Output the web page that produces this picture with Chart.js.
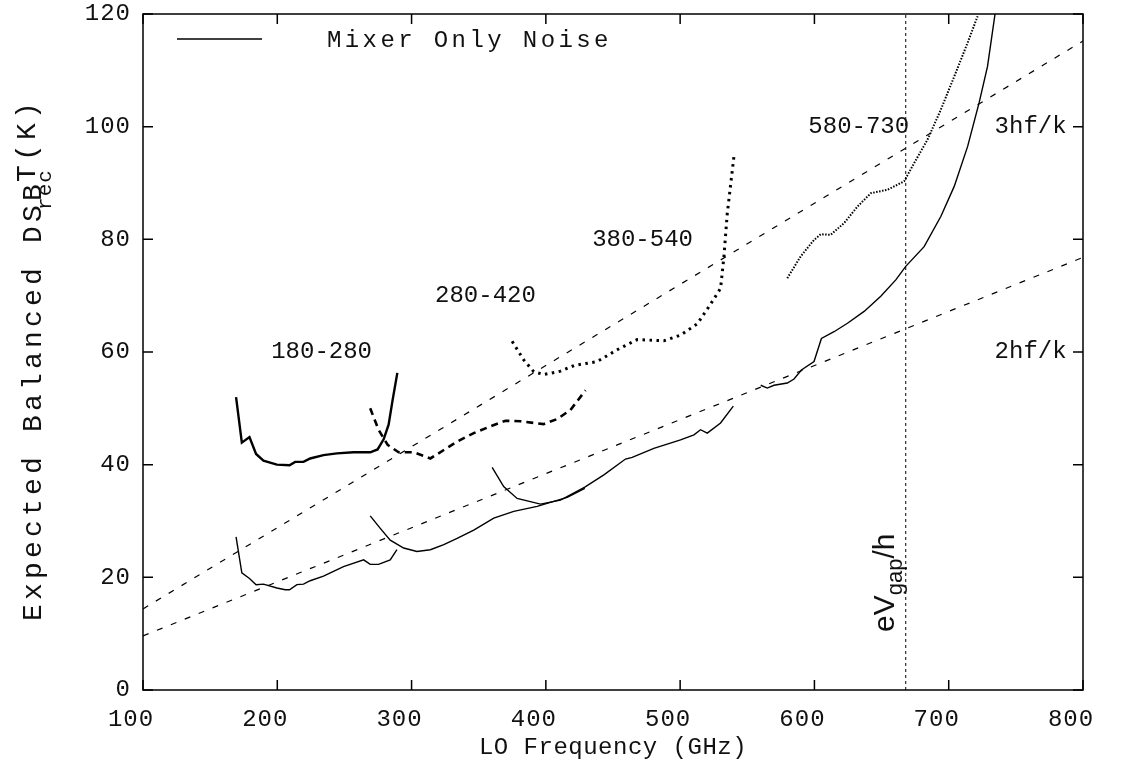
<!DOCTYPE html>
<html>
<head>
<meta charset="utf-8">
<script src="https://cdn.jsdelivr.net/npm/chart.js@4.4.1/dist/chart.umd.min.js"></script>
<style>
  html, body { margin: 0; padding: 0; background: #fff; }
  #wrap { width: 1124px; height: 775px; position: relative; }
</style>
</head>
<body>
<div id="wrap"><canvas id="grafica"></canvas></div>
<script>
// ---- datos (GHz, K) ----
const xTicks = [100, 200, 300, 400, 500, 600, 700, 800];
const yTicks = [0, 20, 40, 60, 80, 100, 120];

// banda 180-280
const f180Sup = [169.3, 173.6, 179.3, 184.2, 189.7, 199.7, 209.1, 213.3, 219.5, 224.5, 234.4, 244.4, 256.8, 269.2, 274.7, 279.2, 282.9, 285.9, 289.4];
const t180Sup = [52.0, 43.9, 44.9, 41.9, 40.7, 40.0, 39.9, 40.5, 40.5, 41.1, 41.7, 42.0, 42.2, 42.2, 42.7, 44.5, 47.1, 51.5, 56.3];
const f180Inf = [169.3, 173.6, 179.3, 184.2, 189.7, 199.7, 205.9, 209.1, 214.6, 219.5, 224.5, 234.4, 249.3, 264.3, 269.2, 275.4, 284.1, 289.1];
const t180Inf = [27.2, 20.8, 19.8, 18.7, 18.8, 18.1, 17.8, 17.8, 18.7, 18.8, 19.4, 20.2, 21.9, 23.1, 22.3, 22.3, 23.1, 24.9];

// banda 280-420
const f280Sup = [269.2, 275.4, 282.2, 290.4, 301.6, 314.0, 324.0, 333.9, 346.3, 358.7, 369.9, 381.1, 398.4, 408.4, 418.3, 429.5];
const t280Sup = [50.0, 46.2, 43.5, 42.2, 42.2, 41.1, 42.6, 44.1, 45.6, 46.8, 47.8, 47.7, 47.2, 48.1, 49.7, 53.2];
const f280Inf = [269.2, 276.7, 284.1, 294.1, 304.0, 314.0, 324.0, 333.9, 346.3, 361.2, 376.1, 393.5, 403.4, 415.9, 429.0];
const t280Inf = [30.9, 28.7, 26.6, 25.2, 24.6, 24.9, 25.8, 26.9, 28.4, 30.5, 31.7, 32.6, 33.3, 34.2, 35.8];

// banda 380-540
const f380Sup = [374.9, 383.5, 391.0, 398.5, 410.9, 421.0, 438.2, 453.1, 468.0, 487.9, 500.3, 512.8, 522.7, 530.1, 532.6, 535.1, 540.1];
const t380Sup = [61.9, 58.6, 56.5, 56.0, 56.6, 57.6, 58.3, 60.4, 62.2, 62.0, 63.0, 65.0, 68.5, 71.3, 76.9, 84.6, 94.8];
const f380Inf = [360.0, 368.6, 378.6, 396.0, 410.9, 429.0, 443.2, 459.3, 464.3, 480.4, 500.3, 510.3, 515.2, 520.2, 530.1, 539.6];
const t380Inf = [39.5, 36.1, 34.0, 33.0, 33.7, 36.0, 38.2, 41.0, 41.3, 42.9, 44.4, 45.3, 46.2, 45.6, 47.4, 50.4];

// banda 580-730
const f580Sup = [579.8, 589.8, 599.7, 604.7, 612.2, 622.1, 632.0, 642.0, 654.4, 666.8, 674.2, 684.2, 694.1, 704.1, 714.1, 721.5];
const t580Sup = [73.1, 77.0, 79.9, 80.9, 80.8, 82.9, 85.8, 88.2, 88.8, 90.3, 93.5, 97.7, 103.0, 108.9, 114.9, 119.6];
const f580Inf = [560.0, 564.9, 569.9, 579.8, 584.8, 590.3, 599.7, 605.2, 614.6, 624.6, 637.0, 649.4, 660.6, 668.0, 681.7, 694.2, 704.1, 714.1, 722.7, 728.9, 734.5];
const t580Inf = [54.1, 53.6, 54.1, 54.5, 55.2, 56.8, 58.3, 62.4, 63.6, 65.1, 67.2, 69.9, 72.8, 75.2, 78.7, 84.1, 89.4, 96.5, 104.3, 110.7, 120.0];

// rectas de referencia y frecuencia del gap
const fRecta = [100, 800];
const t3hf = [14.4, 115.2];
const t2hf = [9.6, 76.8];
const fGap = [668, 668];
const tGap = [0, 120];

// etiquetas de banda (texto, frecuencia, temperatura)
const etiquetas = ['180-280', '280-420', '380-540', '580-730', '3hf/k', '2hf/k'];
const etiquetasF = [233, 355, 472, 633, 761, 761];
const etiquetasT = [60, 70, 80, 100, 100, 60];

const FUENTE = '"Liberation Mono", "DejaVu Sans Mono", monospace';
const SANS = '"Liberation Sans", Arial, sans-serif';

function puntos(xs, ys) {
  return xs.map((x, i) => ({ x, y: ys[i] }));
}

function serie(xs, ys, estilo) {
  return Object.assign({
    data: puntos(xs, ys),
    showLine: true,
    borderColor: '#000',
    borderWidth: 1.4,
    pointRadius: 0,
    tension: 0,
    fill: false,
  }, estilo);
}

const grueso = { borderWidth: 2.4 };
const punteadoGrueso = { borderWidth: 3, borderDash: [2.5, 4.5] };
const discontinuoGrueso = { borderWidth: 2.6, borderDash: [7, 5] };
const punteadoFino = { borderWidth: 2, borderDash: [1.5, 1.5] };
const recta = { borderWidth: 1.2, borderDash: [6, 9] };

// dibuja marco, marcas hacia dentro, numeros y textos
const decoracion = {
  id: 'decoracion',
  afterDraw(chart) {
    const { ctx, chartArea: a, scales: { x, y } } = chart;
    ctx.save();
    ctx.strokeStyle = '#000';
    ctx.fillStyle = '#111';
    ctx.lineWidth = 1.5;
    ctx.strokeRect(a.left, a.top, a.right - a.left, a.bottom - a.top);

    ctx.beginPath();
    xTicks.forEach(v => {
      const px = x.getPixelForValue(v);
      ctx.moveTo(px, a.bottom); ctx.lineTo(px, a.bottom - 10);
      ctx.moveTo(px, a.top); ctx.lineTo(px, a.top + 10);
    });
    yTicks.forEach(v => {
      const py = y.getPixelForValue(v);
      ctx.moveTo(a.left, py); ctx.lineTo(a.left + 10, py);
      ctx.moveTo(a.right, py); ctx.lineTo(a.right - 10, py);
    });
    ctx.stroke();

    // numeros de los ejes (en el original quedan algo corridos a la izquierda)
    ctx.font = '24px ' + FUENTE;
    ctx.letterSpacing = '1px';
    ctx.textAlign = 'center';
    ctx.textBaseline = 'middle';
    xTicks.forEach(v => ctx.fillText(String(v), x.getPixelForValue(v) - 12, a.bottom + 30));
    ctx.textAlign = 'right';
    yTicks.forEach(v => ctx.fillText(String(v), a.left - 12, y.getPixelForValue(v)));

    ctx.letterSpacing = '0px';
    ctx.textAlign = 'center';
    etiquetas.forEach((t, i) => {
      ctx.fillText(t, x.getPixelForValue(etiquetasF[i]), y.getPixelForValue(etiquetasT[i]));
    });

    // titulo eje x
    ctx.letterSpacing = '0.5px';
    ctx.fillText('LO Frequency (GHz)', (a.left + a.right) / 2, a.bottom + 58);

    // titulo eje y con subindice
    ctx.save();
    ctx.translate(31, 621);
    ctx.rotate(-Math.PI / 2);
    ctx.textAlign = 'left';
    ctx.textBaseline = 'alphabetic';
    ctx.font = '28px ' + FUENTE;
    ctx.letterSpacing = '4.2px';
    const p1 = 'Expected Balanced DSB';
    const w1 = ctx.measureText(p1).width;
    ctx.fillText(p1, 0, 10);
    ctx.fillText('T(K)', w1 - 2, 4);
    ctx.font = '21px ' + FUENTE;
    ctx.letterSpacing = '1px';
    ctx.fillText('rec', w1 - 30, 20);
    ctx.restore();

    // leyenda
    ctx.lineWidth = 1.5;
    ctx.beginPath();
    ctx.moveTo(177, 39); ctx.lineTo(262, 39);
    ctx.stroke();
    ctx.font = '24px ' + FUENTE;
    ctx.letterSpacing = '3.4px';
    ctx.textAlign = 'left';
    ctx.fillText('Mixer Only Noise', 327, 41);
    ctx.letterSpacing = '0px';

    // etiqueta eVgap/h
    ctx.save();
    ctx.translate(x.getPixelForValue(fGap[0]) - 12, 632);
    ctx.rotate(-Math.PI / 2);
    ctx.textAlign = 'left';
    ctx.textBaseline = 'alphabetic';
    ctx.font = '30px ' + SANS;
    let cx = 0;
    ctx.fillText('eV', cx, 0);
    cx += ctx.measureText('eV').width;
    ctx.font = '22px ' + SANS;
    ctx.fillText('gap', cx, 8);
    cx += ctx.measureText('gap').width;
    ctx.font = '30px ' + SANS;
    ctx.fillText('/h', cx, 0);
    ctx.restore();

    ctx.restore();
  }
};

new Chart(document.getElementById('grafica'), {
  type: 'scatter',
  data: {
    datasets: [
      serie(f180Sup, t180Sup, grueso),
      serie(f180Inf, t180Inf, {}),
      serie(f280Sup, t280Sup, discontinuoGrueso),
      serie(f280Inf, t280Inf, {}),
      serie(f380Sup, t380Sup, punteadoGrueso),
      serie(f380Inf, t380Inf, {}),
      serie(f580Sup, t580Sup, punteadoFino),
      serie(f580Inf, t580Inf, {}),
      serie(fRecta, t3hf, recta),
      serie(fRecta, t2hf, recta),
      serie(fGap, tGap, { borderWidth: 1, borderDash: [3, 3] }),
    ],
  },
  options: {
    responsive: true,
    maintainAspectRatio: false,
    animation: false,
    devicePixelRatio: 1,
    layout: { padding: { left: 0, top: 14, right: 41, bottom: 0 } },
    plugins: { legend: { display: false }, tooltip: { enabled: false } },
    scales: {
      x: {
        type: 'linear', min: 100, max: 800,
        ticks: { display: false, stepSize: 100 },
        grid: { display: false },
        border: { display: false },
        afterFit: s => { s.height = 85; },
      },
      y: {
        type: 'linear', min: 0, max: 120,
        ticks: { display: false, stepSize: 20 },
        grid: { display: false },
        border: { display: false },
        afterFit: s => { s.width = 143; },
      },
    },
  },
  plugins: [decoracion],
});
</script>
</body>
</html>
